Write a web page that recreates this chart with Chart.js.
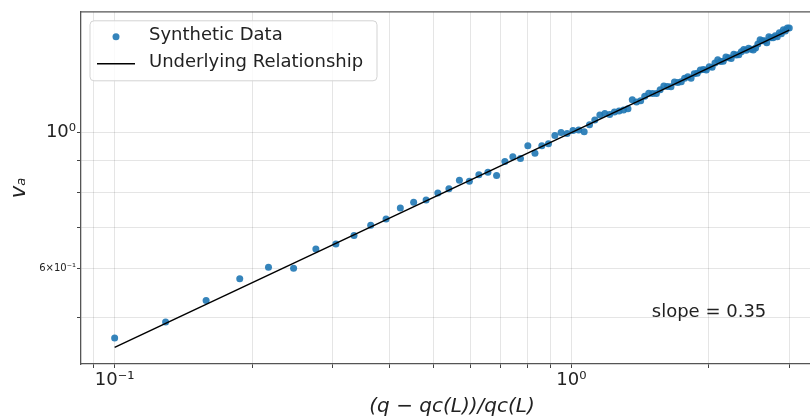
<!DOCTYPE html>
<html><head><meta charset="utf-8">
<script src="https://cdn.jsdelivr.net/npm/chart.js@4/dist/chart.umd.min.js"></script>
<style>html,body{margin:0;padding:0;overflow:hidden;background:#fff;width:810px;height:417px}canvas{display:block}</style>
</head><body>
<canvas id="c" width="830" height="417" style="width:830px;height:417px"></canvas>
<script>
// ---- data ----
const xValues = [0.1, 0.1293, 0.1586, 0.1879, 0.2172, 0.2465, 0.2758, 0.3051, 0.3343, 0.3636,
  0.3929, 0.4222, 0.4515, 0.4808, 0.5101, 0.5394, 0.5687, 0.598, 0.6273, 0.6566,
  0.6859, 0.7152, 0.7444, 0.7737, 0.803, 0.8323, 0.8616, 0.8909, 0.9202, 0.9495,
  0.9788, 1.0081, 1.0374, 1.0667, 1.096, 1.1253, 1.1545, 1.1838, 1.2131, 1.2424,
  1.2717, 1.301, 1.3303, 1.3596, 1.3889, 1.4182, 1.4475, 1.4768, 1.5061, 1.5354,
  1.5646, 1.5939, 1.6232, 1.6525, 1.6818, 1.7111, 1.7404, 1.7697, 1.799, 1.8283,
  1.8576, 1.8869, 1.9162, 1.9455, 1.9747, 2.004, 2.0333, 2.0626, 2.0919, 2.1212,
  2.1505, 2.1798, 2.2091, 2.2384, 2.2677, 2.297, 2.3263, 2.3556, 2.3848, 2.4141,
  2.4434, 2.4727, 2.502, 2.5313, 2.5606, 2.5899, 2.6192, 2.6485, 2.6778, 2.7071,
  2.7364, 2.7657, 2.795, 2.8242, 2.8535, 2.8828, 2.9121, 2.9414, 2.9707, 3.0];
const yValues = [0.4628, 0.4912, 0.5328, 0.5781, 0.6036, 0.6014, 0.6462, 0.6582, 0.6798, 0.7063,
  0.7234, 0.7535, 0.7698, 0.7765, 0.7969, 0.8102, 0.8360, 0.8329, 0.8541, 0.8620,
  0.8516, 0.8971, 0.9131, 0.9070, 0.9519, 0.9258, 0.9519, 0.9593, 0.9890, 1.0000,
  0.9963, 1.0074, 1.0093, 1.0030, 1.0294, 1.0483, 1.0678, 1.0742, 1.0703, 1.0798,
  1.0838, 1.0879, 1.0931, 1.1315, 1.1218, 1.1271, 1.1465, 1.1589, 1.1583, 1.1576,
  1.1740, 1.1906, 1.1891, 1.1878, 1.2085, 1.2069, 1.2095, 1.2257, 1.2327, 1.2261,
  1.2466, 1.2488, 1.2647, 1.2669, 1.2640, 1.2800, 1.2771, 1.2977, 1.3139, 1.3056,
  1.3071, 1.3279, 1.3243, 1.3206, 1.3415, 1.3375, 1.3384, 1.3543, 1.3652, 1.3614,
  1.3720, 1.3673, 1.3628, 1.3736, 1.3944, 1.4159, 1.4109, 1.4112, 1.4008, 1.4326,
  1.4276, 1.4276, 1.4382, 1.4329, 1.4541, 1.4486, 1.4702, 1.4642, 1.4803, 1.4799];
const lineX = [0.1, 3.0];
const lineY = [0.4467, 1.4689];
const seriesLabels = ['Synthetic Data', 'Underlying Relationship'];
const xTicks = [0.09, 0.1, 0.2, 0.3, 0.4, 0.5, 0.6, 0.7, 0.8, 0.9, 1, 2, 3];
const yTicks = [0.5, 0.6, 0.7, 0.8, 0.9, 1];
const xTickLabels = {0.1: '10⁻¹', 1: '10⁰'};
const yTickLabels = {0.6: '6×10⁻¹', 1: '10⁰'};
const xTitle = '(q − qc(L))/qc(L)';
const yTitle = 'vₐ';
const slopeText = 'slope = 0.35';
const slopePos = [1.5, 0.5];

const FONT = 'DejaVu Sans';
const BLUE = 'rgba(31,119,180,0.9)';
Chart.defaults.font.family = FONT;

const framePlugin = {
  id: 'frame',
  afterDraw(chart) {
    const {ctx, chartArea: a} = chart;
    ctx.save();
    ctx.strokeStyle = '#555'; ctx.lineWidth = 1.3;
    ctx.beginPath();
    ctx.moveTo(a.left, a.top); ctx.lineTo(a.right, a.top); ctx.lineTo(a.right, a.bottom);
    ctx.stroke();
    ctx.restore();
  }
};

const overlayPlugin = {
  id: 'overlay',
  afterDatasetsDraw(chart) {
    const {ctx, chartArea: a, scales} = chart;
    ctx.save();
    // slope text
    ctx.font = '18px "' + FONT + '"';
    ctx.fillStyle = '#222';
    ctx.textAlign = 'left'; ctx.textBaseline = 'alphabetic';
    ctx.fillText(slopeText, scales.x.getPixelForValue(slopePos[0]), scales.y.getPixelForValue(slopePos[1]));
    // legend
    const bx = a.left + 9, by = a.top + 9, bw = 287, bh = 60;
    ctx.beginPath();
    if (ctx.roundRect) ctx.roundRect(bx, by, bw, bh, 4); else ctx.rect(bx, by, bw, bh);
    ctx.fillStyle = 'rgba(255,255,255,0.8)';
    ctx.fill();
    ctx.strokeStyle = '#d3d3d3'; ctx.lineWidth = 1;
    ctx.stroke();
    // entry 1: dot
    ctx.fillStyle = BLUE;
    ctx.beginPath(); ctx.arc(bx + 26, by + 16, 3.5, 0, Math.PI * 2); ctx.fill();
    // entry 2: line
    ctx.strokeStyle = '#000'; ctx.lineWidth = 1.5;
    ctx.beginPath(); ctx.moveTo(bx + 7, by + 43); ctx.lineTo(bx + 45, by + 43); ctx.stroke();
    ctx.fillStyle = '#222';
    ctx.textBaseline = 'middle';
    ctx.fillText(seriesLabels[0], bx + 59, by + 15);
    ctx.fillText(seriesLabels[1], bx + 59, by + 42);
    ctx.restore();
  }
};

new Chart(document.getElementById('c'), {
  type: 'scatter',
  data: {
    datasets: [
      {
        label: seriesLabels[1],
        data: lineX.map((x, i) => ({x: x, y: lineY[i]})),
        showLine: true, borderColor: '#000', borderWidth: 1.5,
        pointRadius: 0, order: 0
      },
      {
        label: seriesLabels[0],
        data: xValues.map((x, i) => ({x: x, y: yValues[i]})),
        backgroundColor: BLUE, borderWidth: 0,
        pointRadius: 3.5, order: 1
      }
    ]
  },
  options: {
    responsive: false,
    animation: false,
    layout: {padding: {left: 0, right: 7, top: 8, bottom: 0}},
    plugins: {legend: {display: false}, tooltip: {enabled: false}},
    scales: {
      x: {
        type: 'logarithmic', min: 0.0844, max: 3.556,
        afterBuildTicks: s => { s.ticks = xTicks.map(v => ({value: v})); },
        afterFit: s => { s.height = 53; },
        ticks: {
          autoSkip: false, maxRotation: 0, minRotation: 0, padding: 2, color: '#222',
          font: {family: FONT, size: 18},
          callback: v => xTickLabels[v] ?? ''
        },
        grid: {color: 'rgba(0,0,0,0.1)', lineWidth: 1, tickColor: '#444', tickLength: 4},
        border: {display: true, color: '#555', width: 1.3},
        title: {
          display: true, text: xTitle, color: '#222',
          font: {family: FONT, size: 20, style: 'italic', lineHeight: 1},
          padding: {top: 0, bottom: 0}
        }
      },
      y: {
        type: 'logarithmic', min: 0.4198, max: 1.573,
        afterBuildTicks: s => { s.ticks = yTicks.map(v => ({value: v})); },
        afterFit: s => { s.width = 81; },
        ticks: {
          autoSkip: false, padding: 1, color: '#222',
          font: ctx => (ctx.tick && ctx.tick.value === 0.6) ? {family: FONT, size: 10} : {family: FONT, size: 18},
          callback: v => yTickLabels[v] ?? ''
        },
        grid: {color: 'rgba(0,0,0,0.1)', lineWidth: 1, tickColor: '#444', tickLength: 4},
        border: {display: true, color: '#555', width: 1.3},
        title: {
          display: true, text: yTitle, color: '#222',
          font: {family: FONT, size: 21, style: 'italic', lineHeight: 1.2},
          padding: {top: 7, bottom: 0}
        }
      }
    }
  },
  plugins: [framePlugin, overlayPlugin]
});
</script>
</body></html>
